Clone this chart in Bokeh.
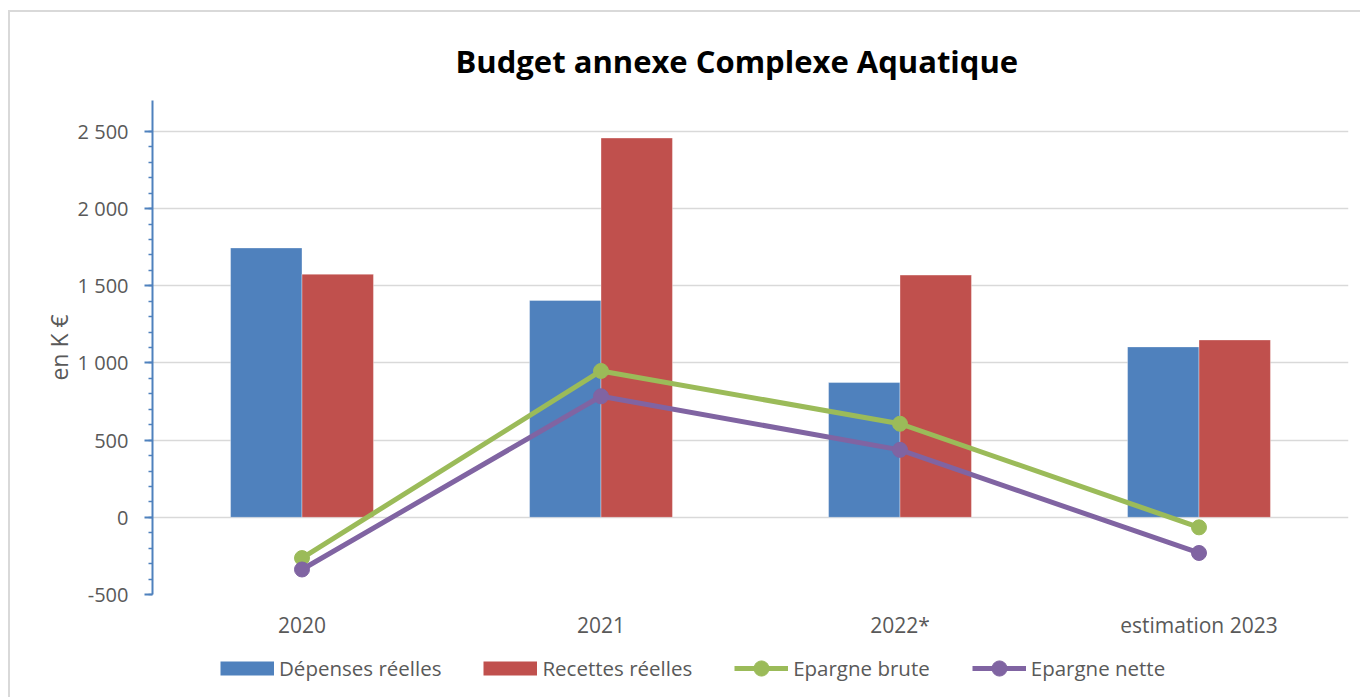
from bokeh.plotting import figure
from bokeh.layouts import column
from bokeh.models import (FactorRange, Range1d, FixedTicker, Legend, LegendItem,
                          ColumnDataSource)
from bokeh.transform import dodge
from bokeh.embed import file_html
from bokeh.resources import INLINE

# ---- data ----
categories = ["2020", "2021", "2022*", "estimation 2023"]
depenses = [1745, 1405, 873, 1104]
recettes = [1575, 2457, 1569, 1149]
epargne_brute = [-264, 948, 606, -65]
epargne_nette = [-338, 784, 437, -231]
series_names = ["Dépenses réelles", "Recettes réelles", "Epargne brute", "Epargne nette"]
y_ticks = [-500, 0, 500, 1000, 1500, 2000, 2500]
y_tick_labels = ["-500", "0", "500", "1 000", "1 500", "2 000", "2 500"]
y_minor_ticks = [-500 + 100 * i for i in range(31)]
title_text = "Budget annexe Complexe Aquatique"
y_label = "en K €"

BLUE = "#4F81BD"
RED = "#C0504D"
GREEN = "#9BBB59"
PURPLE = "#8064A2"
TXT = "#595959"
FONT = "Open Sans"
EDGE = "#d9d9d9"

src = ColumnDataSource(dict(cat=categories, dep=depenses, rec=recettes,
                            eb=epargne_brute, en=epargne_nette))

# ---------------- main chart ----------------
p = figure(width=1360, height=642,
           x_range=FactorRange(*categories, range_padding=0),
           y_range=Range1d(-500, 2700),
           output_backend="svg", toolbar_location=None,
           min_border_left=152, min_border_right=12,
           min_border_top=100, min_border_bottom=48)
p.border_fill_color = None
p.background_fill_color = "white"
p.outline_line_color = None
p.styles = {
    "background": (f"linear-gradient({EDGE},{EDGE}) 10px 10px / 1350px 2px no-repeat, "
                   f"linear-gradient({EDGE},{EDGE}) 8px 10px / 2px 700px no-repeat, #ffffff")
}

# title
p.title.text = title_text
p.title.text_font = FONT
p.title.text_font_style = "bold"
p.title.text_font_size = "31px"
p.title.text_color = "#000000"
p.title.align = "left"
p.title.offset = 303
p.title.standoff = 38

# bars
bw = 0.239
p.vbar(x=dodge("cat", -bw / 2, range=p.x_range), top="dep", width=bw, source=src,
       fill_color=BLUE, line_color="#ffffff", line_width=0.6, line_alpha=0.6)
p.vbar(x=dodge("cat", bw / 2, range=p.x_range), top="rec", width=bw, source=src,
       fill_color=RED, line_color="#ffffff", line_width=0.6, line_alpha=0.6)

# lines
p.line("cat", "eb", source=src, line_color=GREEN, line_width=5)
p.scatter("cat", "eb", source=src, size=15, fill_color=GREEN, line_color=GREEN)
p.line("cat", "en", source=src, line_color=PURPLE, line_width=5)
p.scatter("cat", "en", source=src, size=15, fill_color=PURPLE, line_color=PURPLE)

# y axis
yax = p.yaxis[0]
yax.ticker = FixedTicker(ticks=y_ticks, minor_ticks=y_minor_ticks)
yax.major_label_overrides = {t: l for t, l in zip(y_ticks, y_tick_labels)}
yax.axis_line_color = BLUE
yax.axis_line_width = 2
yax.major_tick_line_color = BLUE
yax.major_tick_line_width = 2
yax.minor_tick_line_color = BLUE
yax.minor_tick_line_width = 1.5
yax.major_tick_out = 8
yax.major_tick_in = 0
yax.minor_tick_out = 4
yax.minor_tick_in = 0
yax.major_label_text_font = FONT
yax.major_label_text_font_size = "20px"
yax.major_label_text_color = TXT
yax.major_label_standoff = 16
yax.axis_label = y_label
yax.axis_label_text_font = FONT
yax.axis_label_text_font_size = "23px"
yax.axis_label_text_font_style = "normal"
yax.axis_label_text_color = TXT
yax.axis_label_standoff = 0

# x axis
xax = p.xaxis[0]
xax.axis_line_color = None
xax.major_tick_line_color = None
xax.minor_tick_line_color = None
xax.major_tick_out = 0
xax.major_tick_in = 0
xax.minor_tick_out = 0
xax.major_label_text_font = FONT
xax.major_label_text_font_size = "21px"
xax.major_label_text_color = TXT
xax.major_label_standoff = 16

# grid
p.xgrid.grid_line_color = None
p.ygrid.ticker = FixedTicker(ticks=y_ticks)
p.ygrid.grid_line_color = EDGE
p.ygrid.grid_line_width = 1.5

# ---------------- legend strip ----------------
lg = figure(width=1360, height=55, x_range=Range1d(0, 1), y_range=Range1d(0, 1),
            output_backend="svg", toolbar_location=None,
            x_axis_type=None, y_axis_type=None,
            min_border=0, min_border_left=0, min_border_right=0,
            min_border_top=0, min_border_bottom=0)
lg.border_fill_color = None
lg.background_fill_color = None
lg.outline_line_color = None
lg.xgrid.visible = False
lg.ygrid.visible = False
lg.styles = {
    "background": f"linear-gradient({EDGE},{EDGE}) 8px 0px / 2px 100px no-repeat, #ffffff"
}

# proxy renderers (their values lie outside this strip's ranges, so nothing is drawn)
px_dep = lg.line(x=[depenses[0], depenses[1]], y=[depenses[0], depenses[1]],
                 line_color=BLUE, line_width=14)
px_rec = lg.line(x=[recettes[0], recettes[1]], y=[recettes[0], recettes[1]],
                 line_color=RED, line_width=14)
px_ebl = lg.line(x=[depenses[0]], y=[epargne_brute[1]], line_color=GREEN, line_width=5)
px_ebs = lg.scatter(x=[depenses[0]], y=[epargne_brute[1]], size=15,
                    fill_color=GREEN, line_color=GREEN)
px_enl = lg.line(x=[depenses[0]], y=[epargne_nette[1]], line_color=PURPLE, line_width=5)
px_ens = lg.scatter(x=[depenses[0]], y=[epargne_nette[1]], size=15,
                    fill_color=PURPLE, line_color=PURPLE)

legend = Legend(items=[
    LegendItem(label=series_names[0], renderers=[px_dep]),
    LegendItem(label=series_names[1], renderers=[px_rec]),
    LegendItem(label=series_names[2], renderers=[px_ebl, px_ebs]),
    LegendItem(label=series_names[3], renderers=[px_enl, px_ens]),
], orientation="horizontal", location=(68, 10), padding=0, margin=0,
    glyph_width=54, glyph_height=38, label_standoff=5, spacing=42,
    label_text_font=FONT, label_text_font_size="20.5px", label_text_color=TXT,
    border_line_color=None, background_fill_alpha=0)
lg.add_layout(legend, "center")

layout = column(p, lg, spacing=0)
open("out.html", "w").write(file_html(layout, INLINE))
